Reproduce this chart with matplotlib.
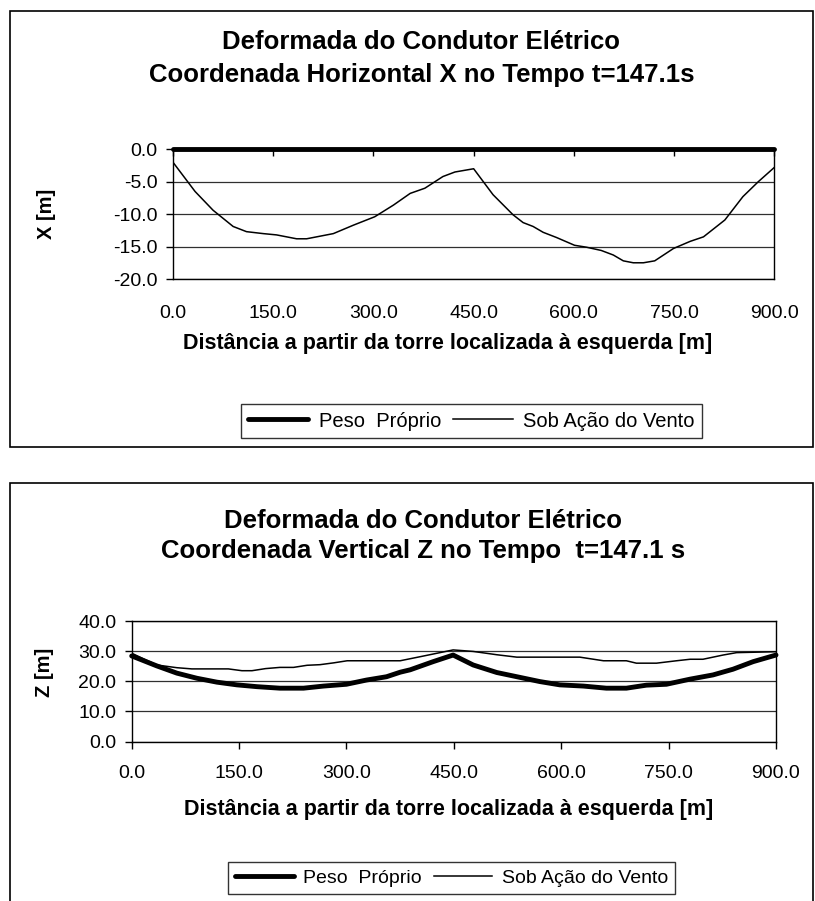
import matplotlib as mpl
import matplotlib.pyplot as plt
from matplotlib.patches import Rectangle

mpl.rcParams['font.family'] = ['Liberation Sans', 'DejaVu Sans']
mpl.rcParams['text.color'] = 'black'

# ---- data ----
x_ticks = [0.0, 150.0, 300.0, 450.0, 600.0, 750.0, 900.0]

# top chart: horizontal coordinate X
dist_peso_x = [0.0, 900.0]
x_peso = [0.0, 0.0]
dist_vento_x = [0, 33, 60, 90, 110, 135, 155, 185, 200, 240, 270, 302, 330, 355,
                377, 404, 422, 450, 479, 509, 524, 539, 554, 574, 601, 619, 641,
                659, 674, 689, 704, 721, 749, 774, 794, 826, 853, 876, 900]
x_vento = [-2.0, -6.5, -9.4, -11.9, -12.7, -13.0, -13.2, -13.8, -13.8, -13.0,
           -11.7, -10.4, -8.6, -6.8, -6.0, -4.2, -3.5, -3.0, -7.0, -10.1, -11.3,
           -11.9, -12.8, -13.6, -14.8, -15.1, -15.6, -16.3, -17.2, -17.5, -17.5,
           -17.2, -15.3, -14.2, -13.5, -10.9, -7.3, -5.0, -2.8]

# bottom chart: vertical coordinate Z
dist_peso_z = [0, 35, 63, 91, 119, 147, 175, 207, 240, 268, 300, 328, 356, 375,
               389, 421, 449, 477, 510, 538, 570, 598, 631, 663, 691, 719, 747,
               780, 812, 840, 868, 900]
z_peso = [28.4, 25.1, 22.7, 21.0, 19.7, 18.8, 18.2, 17.7, 17.7, 18.4, 19.0, 20.4,
          21.5, 23.0, 23.8, 26.5, 28.7, 25.4, 22.9, 21.5, 19.9, 18.8, 18.4, 17.7,
          17.7, 18.7, 19.0, 20.7, 22.1, 24.0, 26.5, 28.7]
dist_vento_z = [0, 35, 63, 84, 135, 154, 168, 187, 207, 226, 245, 263, 282, 301,
                375, 404, 449, 477, 510, 538, 626, 659, 691, 705, 733, 761, 780,
                798, 826, 845, 900]
z_vento = [29.3, 25.4, 24.5, 24.1, 24.1, 23.5, 23.5, 24.2, 24.6, 24.6, 25.3, 25.5,
           26.1, 26.8, 26.8, 28.2, 30.4, 29.9, 28.8, 28.0, 28.0, 26.8, 26.8, 26.0,
           26.0, 26.8, 27.3, 27.3, 28.7, 29.5, 29.8]

labels = ['Peso  Próprio', 'Sob Ação do Vento']

W, H = 815, 901
fig = plt.figure(figsize=(W / 100, H / 100), dpi=100)


def fx(px):
    return px / W


def fy(py):
    return 1 - py / H


def style_axes(ax, yticks):
    ax.set_xlim(0, 900)
    ax.set_xticks(x_ticks)
    ax.set_xticklabels([f'{v:.1f}' for v in x_ticks])
    ax.set_yticks(yticks)
    ax.set_yticklabels([f'{v:.1f}' for v in yticks])
    ax.yaxis.grid(True, color='#303030', linewidth=0.9)
    ax.set_axisbelow(True)
    for s in ax.spines.values():
        s.set_color('black')
        s.set_linewidth(1.0)
    ax.tick_params(axis='both', labelsize=14, length=5, width=1, color='black')
    ax.tick_params(axis='y', direction='out', pad=6)


def add_legend(ax, cx, cy, size):
    leg = fig.legend(*ax.get_legend_handles_labels(), loc='center',
                     bbox_to_anchor=(fx(cx), fy(cy)), ncols=2, fontsize=size,
                     frameon=True, fancybox=False, edgecolor='black', handlelength=3.0,
                     columnspacing=0.6, handletextpad=0.5, borderpad=0.35)
    leg.get_frame().set_linewidth(1.0)
    return leg


# chart frames
fig.patches.append(Rectangle((fx(10), fy(447)), fx(803), 436 / H, transform=fig.transFigure,
                             fill=False, edgecolor='black', linewidth=1.2))
fig.patches.append(Rectangle((fx(10), fy(920)), fx(803), 437 / H, transform=fig.transFigure,
                             fill=False, edgecolor='black', linewidth=1.2))

# ---- top chart ----
ax1 = fig.add_axes([fx(173), fy(279), fx(774.3 - 173), (279 - 149.3) / H])
ax1.plot(dist_peso_x, x_peso, color='black', linewidth=3.5, solid_capstyle='round',
         clip_on=False, zorder=5, label=labels[0])
ax1.plot(dist_vento_x, x_vento, color='black', linewidth=1.1, label=labels[1])
ax1.set_ylim(-20, 0)
style_axes(ax1, [-20, -15, -10, -5, 0])
ax1.tick_params(axis='x', top=True, bottom=False, direction='in', labeltop=False,
                labelbottom=True, pad=19)

fig.text(0.517, fy(42), 'Deformada do Condutor Elétrico', ha='center', va='center',
         fontsize=18.5, fontweight='bold')
fig.text(0.517, fy(75), 'Coordenada Horizontal X no Tempo t=147.1s', ha='center',
         va='center', fontsize=18.5, fontweight='bold')
fig.text(fx(448), fy(343), 'Distância a partir da torre localizada à esquerda [m]',
         ha='center', va='center', fontsize=15.5, fontweight='bold')
fig.text(fx(47), fy(214), 'X [m]', ha='center', va='center', rotation=90,
         fontsize=14.5, fontweight='bold')
add_legend(ax1, 471.5, 421, 14.5)

# ---- bottom chart ----
ax2 = fig.add_axes([fx(131.7), fy(741.5), fx(776 - 131.7), (741.5 - 621) / H])
ax2.plot(dist_peso_z, z_peso, color='black', linewidth=3.5, solid_capstyle='round',
         clip_on=False, zorder=5, label=labels[0])
ax2.plot(dist_vento_z, z_vento, color='black', linewidth=1.1, label=labels[1])
ax2.set_ylim(0, 40)
style_axes(ax2, [0, 10, 20, 30, 40])
ax2.tick_params(axis='x', direction='out', pad=12)

fig.text(0.519, fy(521), 'Deformada do Condutor Elétrico', ha='center', va='center',
         fontsize=18.5, fontweight='bold')
fig.text(0.519, fy(551), 'Coordenada Vertical Z no Tempo  t=147.1 s', ha='center',
         va='center', fontsize=18.5, fontweight='bold')
fig.text(fx(449), fy(810), 'Distância a partir da torre localizada à esquerda [m]',
         ha='center', va='center', fontsize=15.5, fontweight='bold')
fig.text(fx(45), fy(672), 'Z [m]', ha='center', va='center', rotation=90,
         fontsize=14.5, fontweight='bold')
add_legend(ax2, 451.5, 878, 14)

plt.savefig('out.png', dpi=100)
plt.close()
